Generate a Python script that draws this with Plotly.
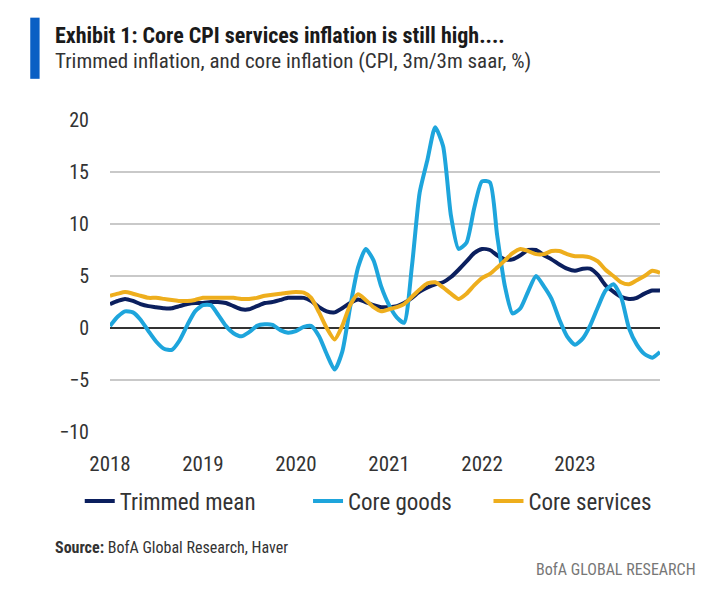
import pandas as pd
import plotly.graph_objects as go

# Monthly readings, Jan 2018 - Dec 2023 (3m/3m saar, %)
months = pd.date_range('2018-01-01', '2023-12-01', freq='MS')

trimmed_mean = [2.3, 2.6, 2.8, 2.6, 2.3, 2.1, 2.0, 1.9, 1.9, 2.1, 2.3, 2.4,
                2.4, 2.5, 2.5, 2.4, 2.1, 1.8, 1.8, 2.1, 2.4, 2.5, 2.7, 2.9,
                2.9, 2.9, 2.6, 2.0, 1.6, 1.5, 1.9, 2.4, 2.75, 2.5, 2.2, 2.0,
                2.0, 2.1, 2.4, 2.9, 3.5, 3.9, 4.2, 4.4, 4.9, 5.6, 6.4, 7.2,
                7.6, 7.5, 7.0, 6.6, 6.6, 7.0, 7.5, 7.5, 7.0, 6.6, 6.1, 5.7,
                5.5, 5.7, 5.7, 5.1, 4.1, 3.5, 3.0, 2.8, 2.9, 3.3, 3.6, 3.6]

core_goods = [0.2, 1.1, 1.6, 1.5, 0.8, -0.3, -1.3, -2.0, -2.1, -1.2, 0.3, 1.6,
              2.2, 2.2, 1.3, 0.2, -0.5, -0.8, -0.4, 0.2, 0.35, 0.3, -0.2, -0.45,
              -0.3, 0.1, 0.2, -0.8, -2.5, -4.0, -2.3, 2.0, 5.8, 7.6, 6.5, 4.0,
              2.2, 1.0, 0.5, 6.0, 13.0, 16.2, 19.3, 17.5, 10.8, 7.6, 8.2, 11.5,
              14.1, 14.0, 9.0, 4.0, 1.4, 1.9, 3.5, 5.0, 4.0, 2.8, 0.8, -0.8,
              -1.6, -1.0, 0.2, 2.0, 3.6, 4.2, 3.0, 0.0, -1.6, -2.5, -2.85, -2.3]

core_services = [3.1, 3.3, 3.45, 3.3, 3.1, 2.9, 2.9, 2.8, 2.7, 2.6, 2.6, 2.7,
                 2.9, 2.9, 2.9, 2.9, 2.9, 2.8, 2.8, 2.9, 3.1, 3.2, 3.3, 3.4,
                 3.45, 3.4, 2.9, 1.5, 0.0, -1.1, 0.2, 2.2, 3.25, 2.7, 2.0, 1.6,
                 1.8, 2.0, 2.3, 3.0, 3.7, 4.3, 4.4, 3.9, 3.3, 2.8, 3.3, 4.1,
                 4.8, 5.2, 5.8, 6.5, 7.2, 7.6, 7.4, 7.1, 7.1, 7.4, 7.4, 7.1,
                 6.9, 6.9, 6.8, 6.4, 5.6, 5.0, 4.4, 4.2, 4.6, 5.0, 5.5, 5.3]

year_ticks = pd.date_range('2018-01-01', '2023-01-01', freq='YS')
year_labels = [str(d.year) for d in year_ticks]
y_ticks = [-10, -5, 0, 5, 10, 15, 20]

FONT = 'Liberation Sans Narrow, Roboto Condensed, Arial Narrow, Roboto, sans-serif'
NB = '\u00a0'  # non-breaking space, pads legend entries apart

series = [('Trimmed mean', trimmed_mean, '#0b1f5e', 9),
          ('Core goods', core_goods, '#1ea5dc', 6),
          ('Core services', core_services, '#eeae1d', 0)]

fig = go.Figure()
for name, vals, color, pad in series:
    fig.add_trace(go.Scatter(x=months, y=vals, mode='lines', name=name + NB * pad,
                             line=dict(color=color, width=4, shape='spline', smoothing=0.6)))

# page has an 8px body margin, so the figure is drawn 8px smaller
fig.update_layout(
    width=720, height=583,
    paper_bgcolor='white', plot_bgcolor='white',
    margin=dict(l=102, r=68, t=112, b=159),
    font=dict(family=FONT, size=17, color='#333333'),
    showlegend=True,
    legend=dict(orientation='h', x=-0.055, xanchor='left', y=-0.221, yanchor='middle',
                font=dict(size=23, color='#333333'), tracegroupgap=0),
    xaxis=dict(range=[months[0], months[-1]], tickvals=year_ticks, ticktext=year_labels,
               showgrid=False, zeroline=False, showline=False, ticks='',
               ticklabelstandoff=17, tickfont=dict(size=21)),
    yaxis=dict(range=[-10, 20], tickvals=y_ticks, showgrid=True, gridcolor='#c9c9c9',
               gridwidth=2, zeroline=True, zerolinecolor='#333333', zerolinewidth=2,
               ticks='', ticklabelstandoff=20, tickfont=dict(size=20)),
    shapes=[dict(type='rect', xref='paper', yref='paper', x0=-0.145, x1=-0.128,
                 y0=1.132, y1=1.328, fillcolor='#0a5fc4', line_width=0)],
    annotations=[
        dict(text='<b>Exhibit 1: Core CPI services inflation is still high....</b>',
             xref='paper', yref='paper', x=-0.103, y=1.272, xanchor='left',
             yanchor='middle', showarrow=False, font=dict(size=22, color='#1a1a1a')),
        dict(text='Trimmed inflation, and core inflation (CPI, 3m/3m saar, %)',
             xref='paper', yref='paper', x=-0.103, y=1.19, xanchor='left',
             yanchor='middle', showarrow=False, font=dict(size=21, color='#333333')),
        dict(text='<b>Source:</b> BofA Global Research, Haver',
             xref='paper', yref='paper', x=-0.103, y=-0.369, xanchor='left',
             yanchor='middle', showarrow=False, font=dict(size=16, color='#333333')),
        dict(text='BofA GLOBAL RESEARCH',
             xref='paper', yref='paper', x=1.069, y=-0.442, xanchor='right',
             yanchor='middle', showarrow=False, font=dict(size=16, color='#777777')),
    ],
)

fig.write_html("out.html")
